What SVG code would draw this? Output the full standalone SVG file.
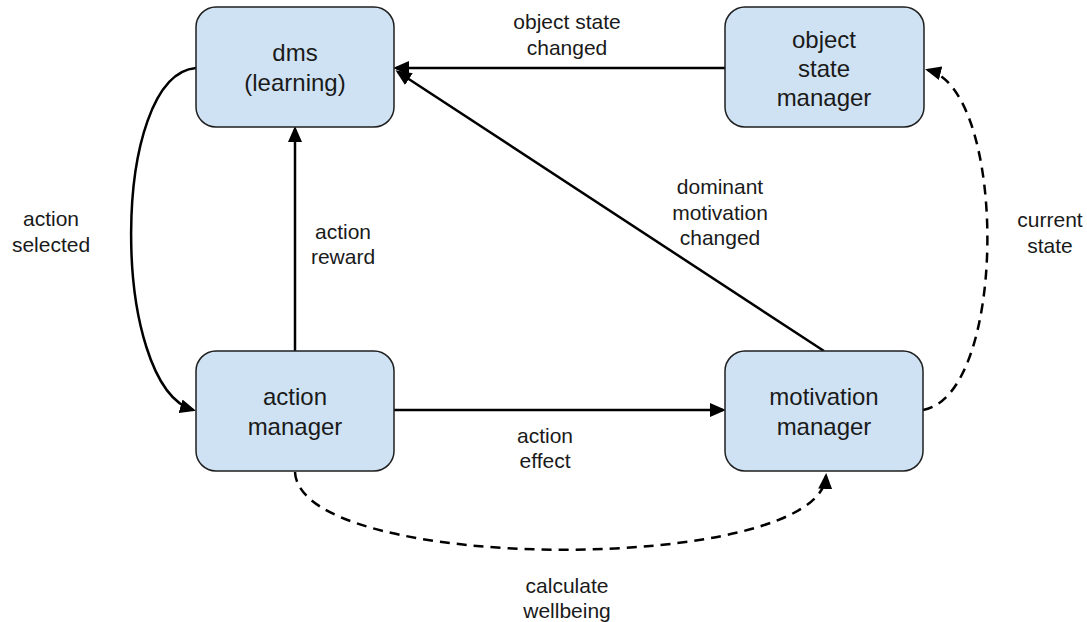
<svg xmlns="http://www.w3.org/2000/svg" width="1087" height="622" viewBox="0 0 1087 622">
<style>
.box{fill:#cfe2f3;stroke:#1f1f1f;stroke-width:1.5}
.nt{font-family:"Liberation Sans",Arial,sans-serif;font-size:24px;fill:#1a1a1a;text-anchor:middle}
.lt{font-family:"Liberation Sans",Arial,sans-serif;font-size:21px;fill:#1a1a1a;text-anchor:middle}
.c{fill:none;stroke:#000;stroke-width:2.5;marker-end:url(#ah)}
.d{stroke-dasharray:10 7}
</style>
<defs>
<marker id="ah" markerUnits="userSpaceOnUse" markerWidth="16" markerHeight="14" viewBox="0 0 16 14" refX="13" refY="7" orient="auto">
<path d="M0,0 L16,7 L0,14 z" fill="#000"/>
</marker>
</defs>
<rect width="1087" height="622" fill="#fff"/>
<g id="connectors">
<path class="c" d="M725,68 L396,68"/>
<path class="c" d="M824,351 L398,72"/>
<path class="c" d="M295,351 L295,129"/>
<path class="c" d="M394,410 L723,410"/>
<path class="c" d="M196,68 C110,75 110,385 193,410"/>
<path class="c d" d="M295,472 C300,575 820,575 826,476"/>
<path class="c d" d="M923,410 C1008,395 1008,90 928,70"/>
</g>
<g id="dms">
<rect class="box" x="196" y="7" width="198" height="120" rx="20"/>
<text class="nt" x="295" y="61">dms</text>
<text class="nt" x="295" y="91">(learning)</text>
</g>
<g id="object-state-manager">
<rect class="box" x="725" y="7" width="199" height="120" rx="20"/>
<text class="nt" x="824" y="48">object</text>
<text class="nt" x="824" y="77">state</text>
<text class="nt" x="824" y="106">manager</text>
</g>
<g id="action-manager">
<rect class="box" x="196" y="351" width="198" height="120" rx="20"/>
<text class="nt" x="295" y="405">action</text>
<text class="nt" x="295" y="435">manager</text>
</g>
<g id="motivation-manager">
<rect class="box" x="725" y="351" width="198" height="120" rx="20"/>
<text class="nt" x="824" y="405">motivation</text>
<text class="nt" x="824" y="435">manager</text>
</g>
<g id="labels">
<text class="lt" x="567" y="29">object state</text>
<text class="lt" x="567" y="55">changed</text>
<text class="lt" x="51" y="226">action</text>
<text class="lt" x="51" y="252">selected</text>
<text class="lt" x="343" y="239">action</text>
<text class="lt" x="343" y="264">reward</text>
<text class="lt" x="720" y="194">dominant</text>
<text class="lt" x="720" y="220">motivation</text>
<text class="lt" x="720" y="245">changed</text>
<text class="lt" x="1050" y="227">current</text>
<text class="lt" x="1050" y="253">state</text>
<text class="lt" x="545" y="443">action</text>
<text class="lt" x="545" y="468">effect</text>
<text class="lt" x="567" y="593">calculate</text>
<text class="lt" x="567" y="618">wellbeing</text>
</g>
</svg>
